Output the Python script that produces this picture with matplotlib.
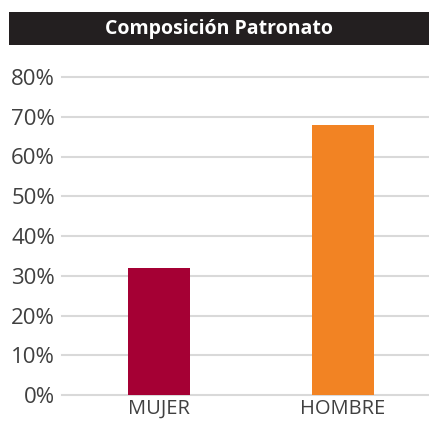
import matplotlib
matplotlib.use("Agg")
import matplotlib.pyplot as plt
from matplotlib.patches import Rectangle
from matplotlib.ticker import PercentFormatter

categories = ["MUJER", "HOMBRE"]
values = [0.32, 0.68]
colors = ["#A50034", "#F28323"]
yticks = [0, 0.1, 0.2, 0.3, 0.4, 0.5, 0.6, 0.7, 0.8]
title = "Composición Patronato"

W, H = 429, 421
fig = plt.figure(figsize=(W/100, H/100), dpi=100)
plt.rcParams['font.family'] = ['Open Sans', 'DejaVu Sans']

ax = fig.add_axes([62/W, 26/H, (429-62)/W, (395-77)/H])
x = list(range(len(categories)))
ax.bar(x, values, width=0.337, color=colors, zorder=3)
ax.set_xlim(-0.527, 1.467)
ax.set_ylim(0, 0.8)
ax.set_yticks(yticks)
ax.yaxis.set_major_formatter(PercentFormatter(1.0, decimals=0))
ax.set_xticks(x)
ax.set_xticklabels(categories)
for s in ax.spines.values():
    s.set_visible(False)
ax.grid(axis='y', color='#D9D9D9', linewidth=1.5, zorder=0)
for gl in ax.get_ygridlines():
    gl.set_clip_on(False)
ax.tick_params(axis='both', length=0, colors='#404040', labelsize=16)
ax.tick_params(axis='y', pad=5)
ax.tick_params(axis='x', pad=3, labelsize=14.5)

fig.patches.append(Rectangle((9/W, 1-45/H), 420/W, 33/H, transform=fig.transFigure,
                             facecolor='#231F20', edgecolor='none'))
fig.text(219/W, 1-29/H, title, color='white', fontsize=14, fontweight='bold',
         ha='center', va='center')

fig.savefig("out.png", dpi=100)
